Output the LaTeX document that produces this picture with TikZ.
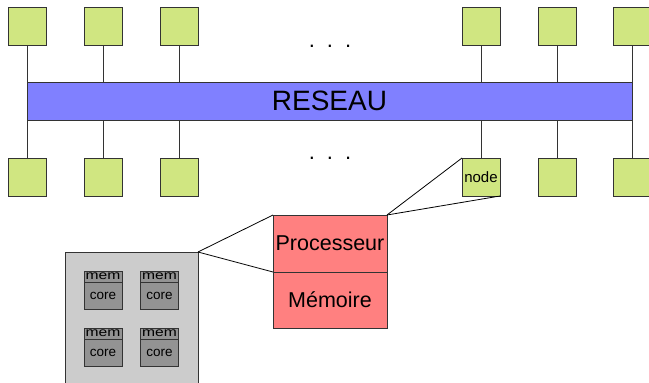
\documentclass[tikz,border=0pt]{standalone}
\usepackage{fontspec}
\setmainfont{Liberation Sans}
\definecolor{sqgreen}{HTML}{D0E681}
\definecolor{netblue}{HTML}{8080FF}
\definecolor{procred}{HTML}{FF8080}
\definecolor{boxgray}{HTML}{CCCCCC}
\definecolor{coregray}{HTML}{939393}
\definecolor{edge}{HTML}{333333}
\begin{document}
\begin{tikzpicture}[x=1pt,y=-1pt,
  sq/.style={draw=edge,fill=sqgreen,line width=0.9pt,minimum width=38pt,minimum height=38pt,inner sep=0pt,outer sep=0pt,font=\fontsize{15}{15}\selectfont},
  link/.style={draw=edge,line width=0.9pt},
  zoomline/.style={draw=black,line width=0.8pt},
  halfbox/.style={draw=edge,fill=procred,line width=0.9pt,minimum width=114pt,inner sep=0pt,outer sep=0pt,font=\fontsize{21.5}{21.5}\selectfont},
  corebox/.style={draw=edge,fill=coregray,line width=0.8pt,minimum width=38pt,minimum height=27pt,inner sep=0pt,outer sep=0pt,font=\fontsize{13.5}{13.5}\selectfont},
  memstrip/.style={draw=edge,fill=coregray,line width=0.8pt,minimum width=38pt,minimum height=11pt,inner sep=0pt,outer sep=0pt,font=\fontsize{12.5}{10}\selectfont},
  dots/.style={inner sep=0pt,font=\fontsize{22}{22}\selectfont}]
\clip (0,0) rectangle (649,383);
% squares
\node[sq] (t1) at (27,26) {};
\node[sq] (t2) at (103,26) {};
\node[sq] (t3) at (179,26) {};
\node[sq] (t4) at (481,26) {};
\node[sq] (t5) at (557,26) {};
\node[sq] (t6) at (632,26) {};
\node[sq] (b1) at (27,177) {};
\node[sq] (b2) at (103,177) {};
\node[sq] (b3) at (179,177) {};
\node[sq] (b4) at (481,177) {node};
\node[sq] (b5) at (557,177) {};
\node[sq] (b6) at (632,177) {};
% links behind the bar
\draw[link] (t1.south) -- (b1.north);
\draw[link] (t2.south) -- (b2.north);
\draw[link] (t3.south) -- (b3.north);
\draw[link] (t4.south) -- (b4.north);
\draw[link] (t5.south) -- (b5.north);
\draw[link] (t6.south) -- (b6.north);
% network bar
\node[draw=edge,fill=netblue,line width=0.9pt,minimum width=605pt,minimum height=38pt,inner sep=0pt,font=\fontsize{28}{28}\selectfont] (bar) at (329.5,101) {RESEAU};
% ellipses
\node[dots] (d1) at (330,46) {.\hspace{12pt}.\hspace{12pt}.};
\node[dots] (d2) at (330,158) {.\hspace{12pt}.\hspace{12pt}.};
% processor / memory
\node[halfbox,minimum height=57pt] (proc) at (330,243.5) {Processeur};
\node[halfbox,minimum height=56pt,anchor=north] (mem) at (proc.south) {Mémoire};
% multicore box
\node[draw=edge,fill=boxgray,line width=0.9pt,minimum width=133pt,minimum height=150pt,inner sep=0pt,outer sep=0pt,anchor=north west] (gray) at (65,252) {};
\node[corebox,anchor=north] (c1) at (103,282) {core};
\node[memstrip,anchor=south] (m1) at (c1.north) {\scalebox{1.25}[1]{mem}};
\node[corebox,anchor=north] (c2) at (159.5,282) {core};
\node[memstrip,anchor=south] (m2) at (c2.north) {\scalebox{1.25}[1]{mem}};
\node[corebox,anchor=north] (c3) at (103,339) {core};
\node[memstrip,anchor=south] (m3) at (c3.north) {\scalebox{1.25}[1]{mem}};
\node[corebox,anchor=north] (c4) at (159.5,339) {core};
\node[memstrip,anchor=south] (m4) at (c4.north) {\scalebox{1.25}[1]{mem}};
% zoom lines
\draw[zoomline] (gray.north east) -- (proc.north west);
\draw[zoomline] (gray.north east) -- (proc.south west);
\draw[zoomline] (proc.north east) -- (b4.north west);
\draw[zoomline] (proc.north east) -- (b4.south east);
\end{tikzpicture}
\end{document}
